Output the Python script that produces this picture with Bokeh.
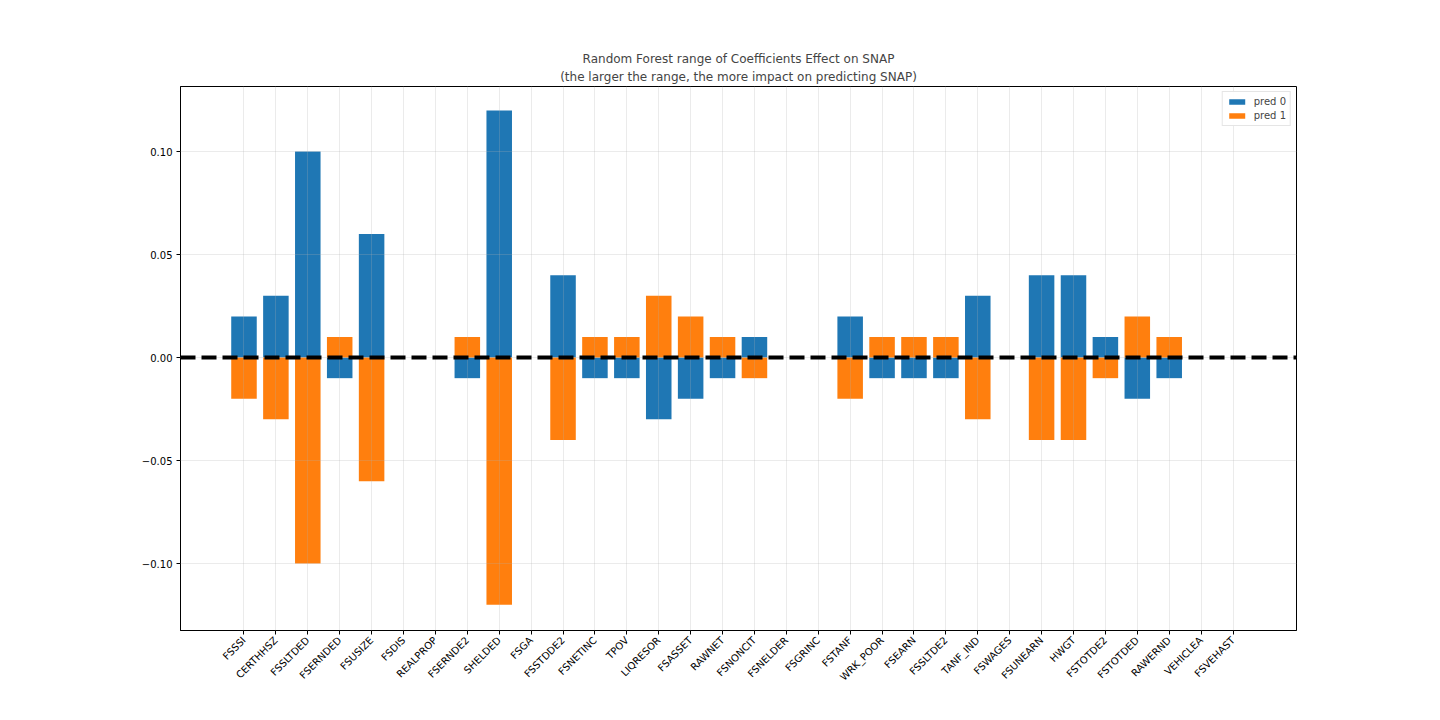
import math
from bokeh.plotting import figure
from bokeh.models import (Range1d, FixedTicker, Span, Legend, LegendItem, Title,
                          ColumnDataSource, CustomJSTickFormatter)
from bokeh.embed import file_html
from bokeh.resources import INLINE

categories = ["FSSSI", "CERTHHSZ", "FSSLTDED", "FSERNDED", "FSUSIZE", "FSDIS", "REALPROP",
              "FSERNDE2", "SHELDED", "FSGA", "FSSTDDE2", "FSNETINC", "TPOV", "LIQRESOR",
              "FSASSET", "RAWNET", "FSNONCIT", "FSNELDER", "FSGRINC", "FSTANF", "WRK_POOR",
              "FSEARN", "FSSLTDE2", "TANF_IND", "FSWAGES", "FSUNEARN", "HWGT", "FSTOTDE2",
              "FSTOTDED", "RAWERND", "VEHICLEA", "FSVEHAST"]
pred0 = [0.02, 0.03, 0.10, -0.01, 0.06, 0.0, 0.0, -0.01, 0.12, 0.0, 0.04, -0.01, -0.01, -0.03,
         -0.02, -0.01, 0.01, 0.0, 0.0, 0.02, -0.01, -0.01, -0.01, 0.03, 0.0, 0.04, 0.04, 0.01,
         -0.02, -0.01, 0.0, 0.0]
pred1 = [-0.02, -0.03, -0.10, 0.01, -0.06, 0.0, 0.0, 0.01, -0.12, 0.0, -0.04, 0.01, 0.01, 0.03,
         0.02, 0.01, -0.01, 0.0, 0.0, -0.02, 0.01, 0.01, 0.01, -0.03, 0.0, -0.04, -0.04, -0.01,
         0.02, 0.01, 0.0, 0.0]
y_ticks = [-0.10, -0.05, 0.0, 0.05, 0.10]
title_line1 = "Random Forest range of Coefficients Effect on SNAP"
title_line2 = "(the larger the range, the more impact on predicting SNAP)"

FONT = "DejaVu Sans"
xs = list(range(len(categories)))
src = ColumnDataSource(dict(x=xs, pred0=pred0, pred1=pred1))

p = figure(width=1432, height=712, output_backend="svg", toolbar_location=None,
           x_range=Range1d(-1.99, 32.99), y_range=Range1d(-0.1325, 0.1316),
           min_border_left=180, min_border_right=136, min_border_top=86,
           min_border_bottom=82, background_fill_color="white", border_fill_color="white")
p.title.visible = False

r0 = p.vbar(x="x", top="pred0", bottom=0, width=0.8, fill_color="#1f77b4",
            line_color=None, source=src)
r1 = p.vbar(x="x", top="pred1", bottom=0, width=0.8, fill_color="#ff7f0e",
            line_color=None, source=src)

p.add_layout(Span(location=0, dimension="width", line_color="black", line_width=4,
                  line_dash="15 6"))

# axes
p.xaxis.ticker = FixedTicker(ticks=xs)
p.xaxis.major_label_overrides = {i: c for i, c in enumerate(categories)}
p.xaxis.major_label_orientation = math.pi / 4
p.yaxis.ticker = FixedTicker(ticks=y_ticks)
p.yaxis.formatter = CustomJSTickFormatter(
    code="return (tick < -1e-9 ? '\u2212' : '') + Math.abs(tick).toFixed(2);")
for ax in (p.xaxis[0], p.yaxis[0]):
    ax.axis_line_color = "black"
    ax.major_tick_line_color = "black"
    ax.major_tick_out = 4
    ax.major_tick_in = 0
    ax.minor_tick_line_color = None
    ax.major_label_text_font = FONT
    ax.major_label_text_font_size = "10px"
    ax.major_label_text_color = "black"
    ax.major_label_standoff = 4

p.outline_line_color = "black"
p.outline_line_alpha = 1

for g in (p.xgrid[0], p.ygrid[0]):
    g.grid_line_color = "#b0b0b0"
    g.grid_line_alpha = 0.25
    g.level = "guide"
p.xgrid.ticker = FixedTicker(ticks=xs)
p.ygrid.ticker = FixedTicker(ticks=y_ticks)

legend = Legend(items=[LegendItem(label="pred 0", renderers=[r0]),
                       LegendItem(label="pred 1", renderers=[r1])],
                location="top_right", label_text_font=FONT, label_text_font_size="10px",
                glyph_width=20, glyph_height=7, label_standoff=7, spacing=3,
                padding=4, margin=5, border_line_color="#cccccc",
                label_height=10)
p.add_layout(legend)

p.add_layout(Title(text=title_line2, align="center", text_font=FONT,
                   text_font_size="12px", text_font_style="normal", standoff=5), "above")
p.add_layout(Title(text=title_line1, align="center", text_font=FONT,
                   text_font_size="12px", text_font_style="normal", standoff=0), "above")

open("out.html", "w").write(file_html(p, INLINE))
